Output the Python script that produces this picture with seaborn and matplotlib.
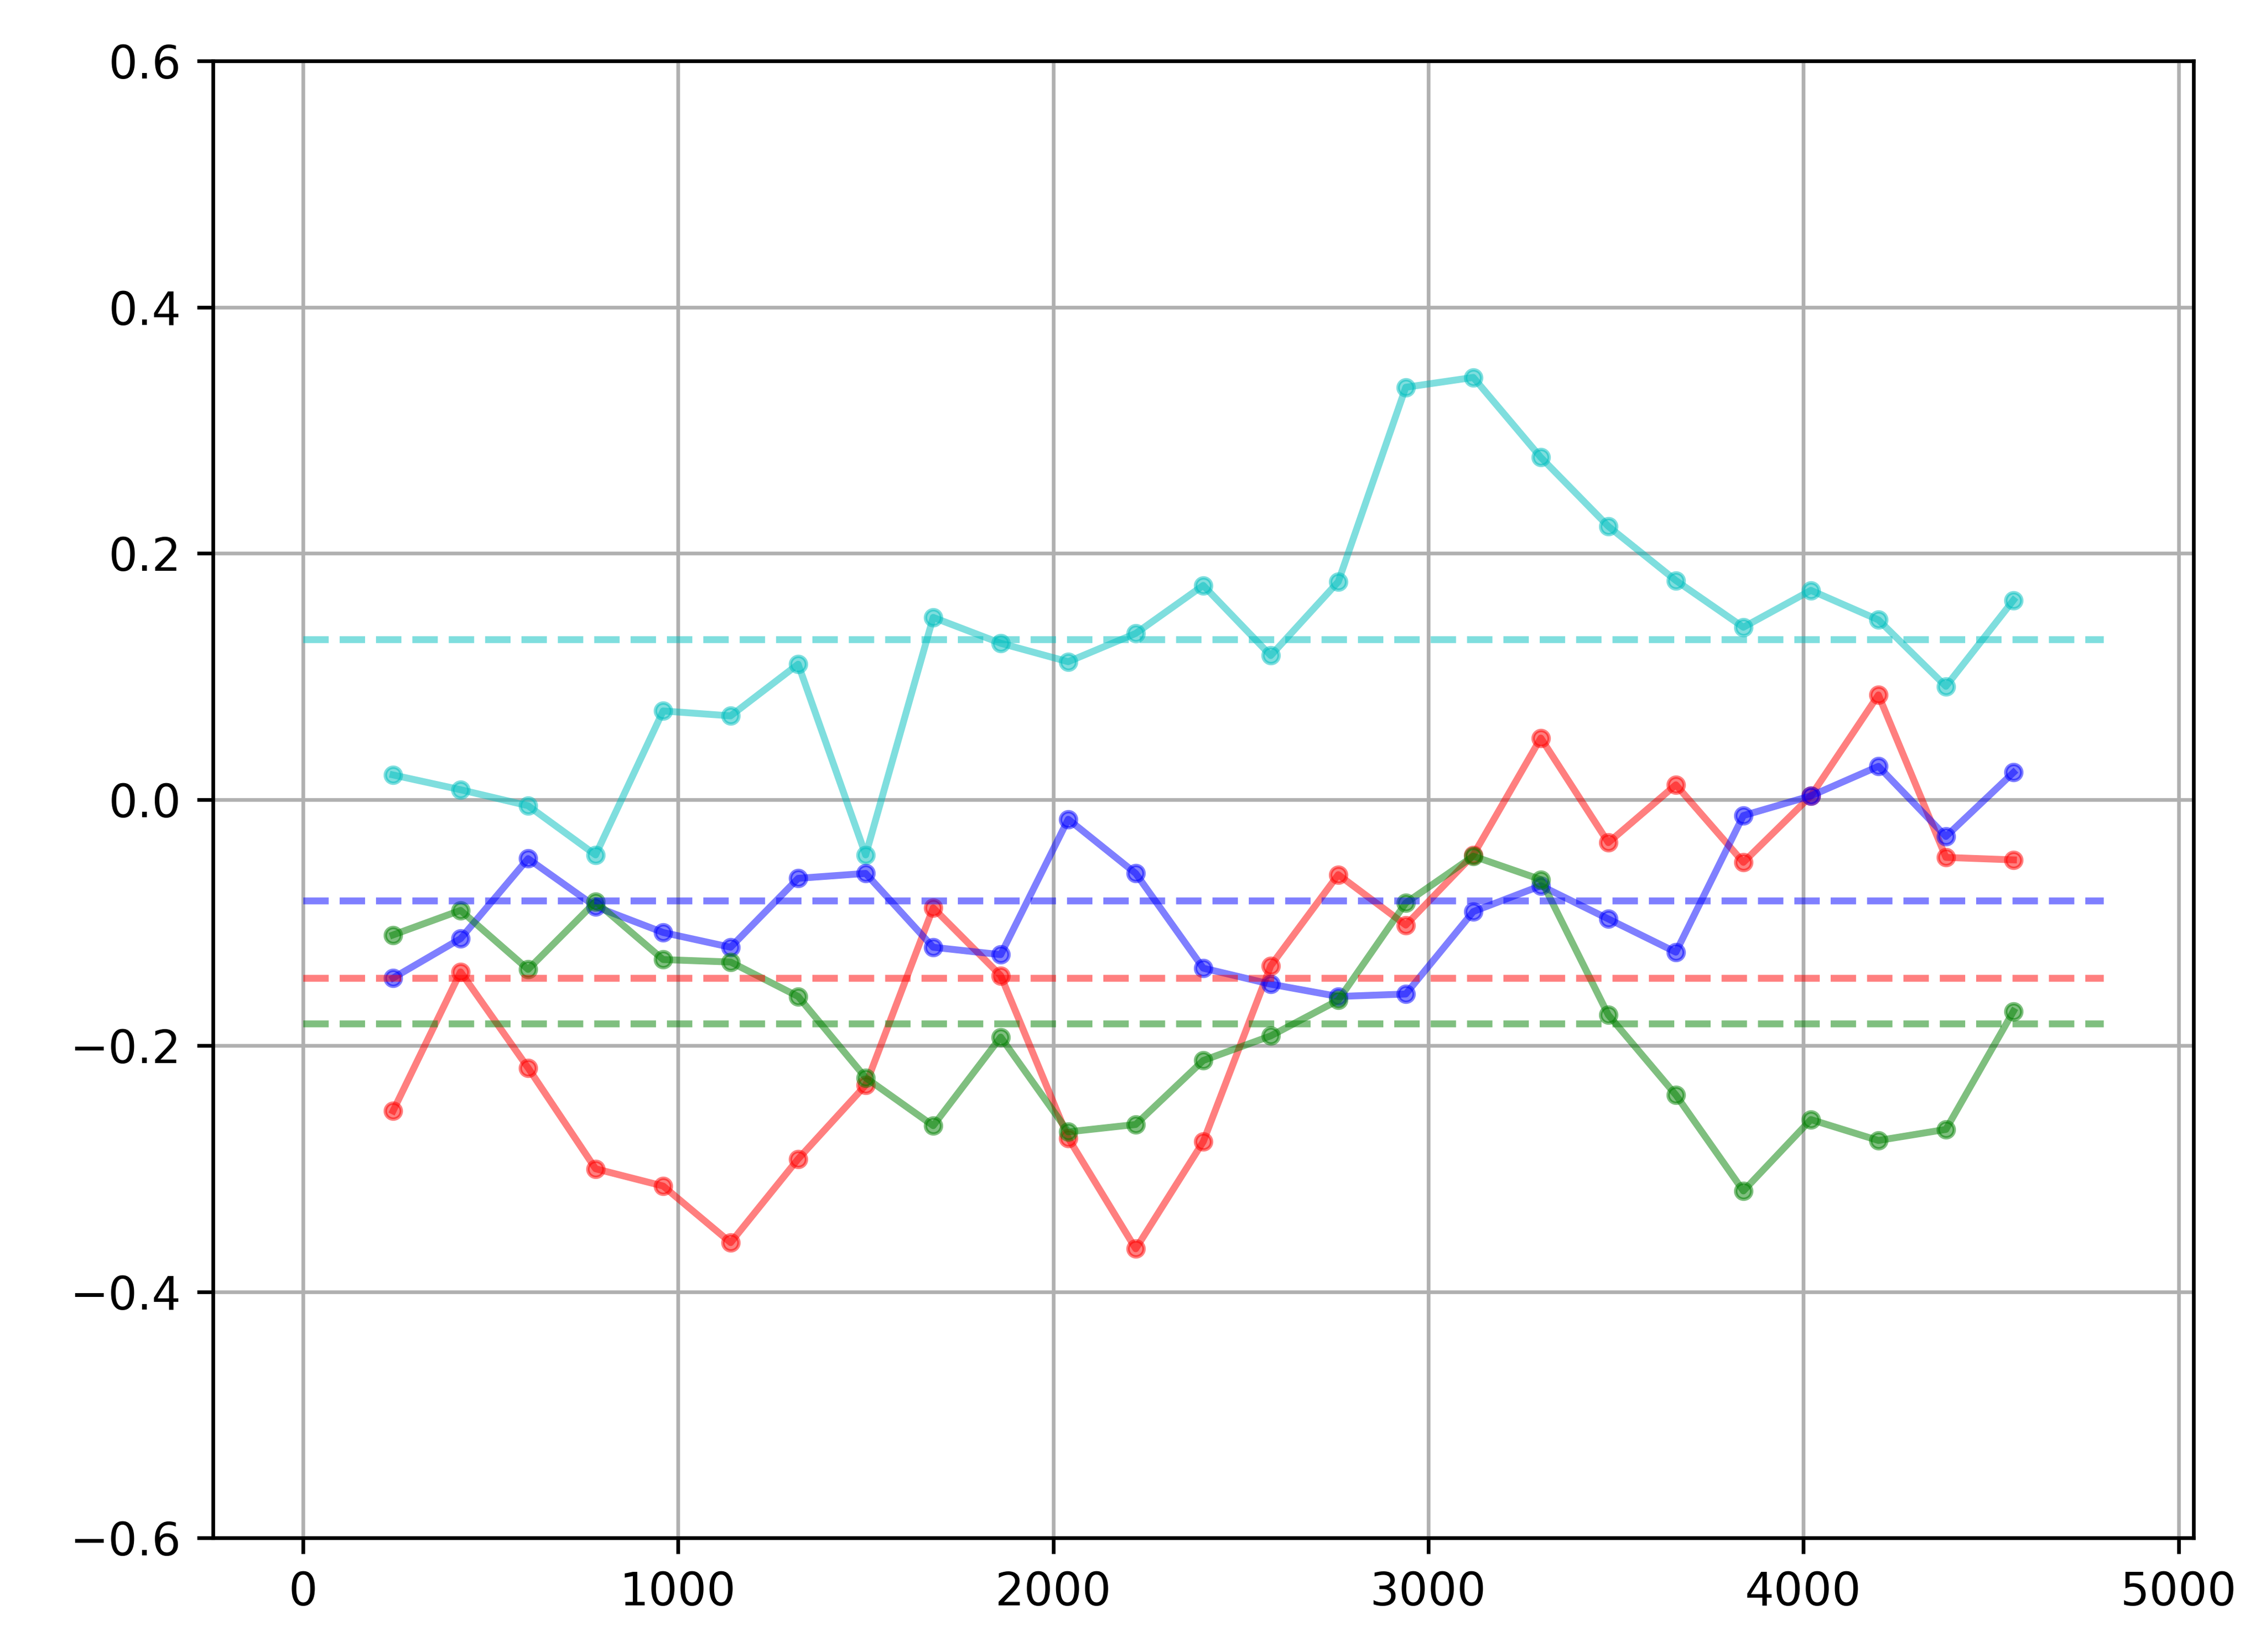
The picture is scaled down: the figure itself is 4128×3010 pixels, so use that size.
import matplotlib
matplotlib.use("Agg")
import matplotlib.pyplot as plt
import seaborn as sns
import pandas as pd

x = [240 + 180 * i for i in range(25)]
cyan = [0.02, 0.008, -0.005, -0.045, 0.072, 0.068, 0.11, -0.045, 0.148, 0.127, 0.112, 0.135, 0.174, 0.117, 0.177, 0.335, 0.343, 0.278, 0.222, 0.178, 0.14, 0.17, 0.146, 0.092, 0.162]
red = [-0.253, -0.14, -0.218, -0.3, -0.314, -0.36, -0.292, -0.232, -0.088, -0.143, -0.275, -0.365, -0.278, -0.135, -0.061, -0.102, -0.045, 0.05, -0.035, 0.012, -0.051, 0.003, 0.085, -0.047, -0.049]
blue = [-0.145, -0.113, -0.048, -0.087, -0.108, -0.12, -0.064, -0.06, -0.12, -0.126, -0.016, -0.06, -0.137, -0.15, -0.16, -0.158, -0.091, -0.07, -0.097, -0.124, -0.013, 0.003, 0.027, -0.03, 0.022]
green = [-0.11, -0.09, -0.138, -0.083, -0.13, -0.132, -0.16, -0.226, -0.265, -0.193, -0.27, -0.264, -0.212, -0.192, -0.163, -0.084, -0.046, -0.065, -0.175, -0.24, -0.318, -0.26, -0.277, -0.268, -0.172]
means = {"c": 0.13, "b": -0.082, "r": -0.145, "g": -0.182}
series = {"c": cyan, "r": red, "b": blue, "g": green}

fig, ax = plt.subplots(figsize=(6.88, 5.0167), dpi=600)
fig.subplots_adjust(left=0.094, right=0.968, top=0.963, bottom=0.069)
for col in ["c", "r", "b", "g"]:
    df = pd.DataFrame({"x": x, "y": series[col]})
    sns.lineplot(data=df, x="x", y="y", color=col, alpha=0.5, marker="o", markersize=3.5,
                 markeredgecolor=col, linewidth=1.5, ax=ax)
for col in ["c", "b", "r", "g"]:
    ax.plot([0, 4800], [means[col]] * 2, "--", color=col, alpha=0.5, linewidth=1.5)
ax.set_ylim(-0.6, 0.6)
ax.set_xticks([0, 1000, 2000, 3000, 4000, 5000])
ax.set_xlabel("")
ax.set_ylabel("")
ax.grid(True)
fig.savefig("out.png", dpi=600)
